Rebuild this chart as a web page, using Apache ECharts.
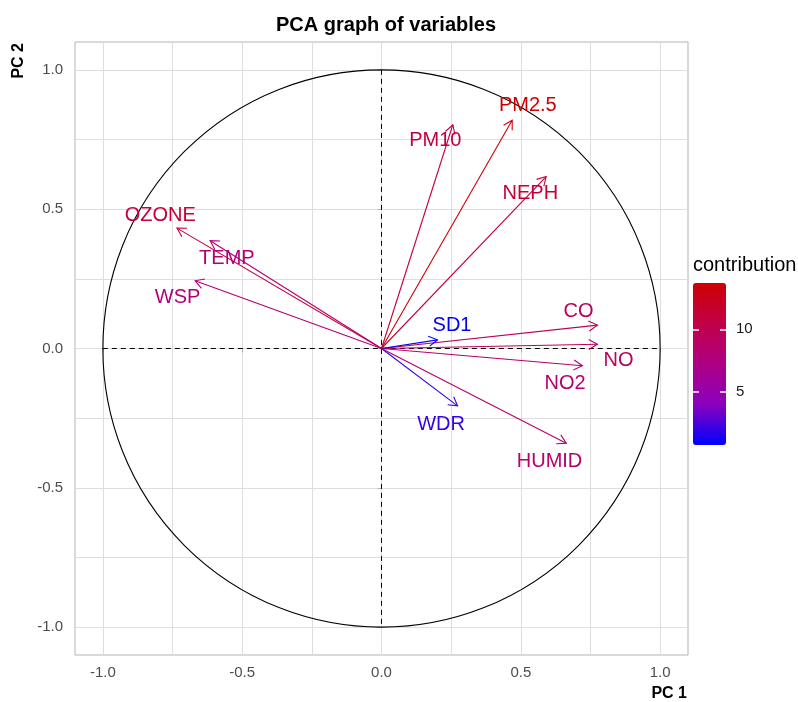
<!DOCTYPE html>
<html>
<head>
<meta charset="utf-8">
<title>PCA graph of variables</title>
<script src="https://cdn.jsdelivr.net/npm/echarts@6/dist/echarts.min.js"></script>
<style>
  html, body { margin: 0; padding: 0; background: #fff; }
  #chart { width: 798px; height: 702px; }
</style>
</head>
<body>
<div id="chart"></div>
<script>
  // variable loadings on PC1 / PC2
  var names = ['PM10', 'PM2.5', 'NEPH', 'OZONE', 'TEMP', 'WSP', 'CO', 'NO', 'NO2', 'SD1', 'WDR', 'HUMID']
  var pc1 = [0.256, 0.469, 0.591, -0.734, -0.615, -0.669, 0.775, 0.775, 0.721, 0.201, 0.273, 0.663]
  var pc2 = [0.803, 0.819, 0.617, 0.432, 0.387, 0.243, 0.084, 0.015, -0.062, 0.031, -0.206, -0.340]
  var contrib = [10.9, 13.7, 11.2, 11.2, 8.1, 7.8, 9.4, 9.3, 8.1, 0.74, 2.0, 8.6]
  // repelled label spots, in data units
  var labelX = [0.193, 0.525, 0.534, -0.794, -0.555, -0.732, 0.707, 0.851, 0.659, 0.253, 0.214, 0.603]
  var labelY = [0.745, 0.871, 0.557, 0.476, 0.324, 0.184, 0.132, -0.044, -0.127, 0.081, -0.272, -0.404]

  var majorTicks = [-1, -0.5, 0, 0.5, 1]
  var gridTicks = [-1, -0.75, -0.5, -0.25, 0, 0.25, 0.5, 0.75, 1]
  var contribTicks = [5, 10]
  var contribMin = 0.74
  var contribMax = 13.7

  var font = '"Liberation Sans", Arial, sans-serif'
  var gradient = ['#0000FF', '#8B00BF', '#AF0083', '#C20049', '#CD0000']

  var arrowData = names.map(function (n, i) {
    return [pc1[i], pc2[i], contrib[i], labelX[i], labelY[i]]
  })

  function renderFrame(params, api) {
    var c = api.coord([0, 0])
    var s = api.size([1, 1])
    var l = api.coord([-1, 0]), r = api.coord([1, 0])
    var t = api.coord([0, 1]), b = api.coord([0, -1])
    var dash = { stroke: '#000', lineWidth: 1, lineDash: [5, 4] }
    return {
      type: 'group',
      children: [
        { type: 'line', shape: { x1: l[0], y1: l[1], x2: r[0], y2: r[1] }, style: dash },
        { type: 'line', shape: { x1: t[0], y1: t[1], x2: b[0], y2: b[1] }, style: dash },
        { type: 'circle', shape: { cx: c[0], cy: c[1], r: s[0] }, style: { stroke: '#000', fill: 'none', lineWidth: 1.1 } }
      ]
    }
  }

  function renderArrow(params, api) {
    var o = api.coord([0, 0])
    var p = api.coord([api.value(0), api.value(1)])
    var t = api.coord([api.value(3), api.value(4)])
    var color = api.visual('color')
    var ang = Math.atan2(p[1] - o[1], p[0] - o[0])
    var len = 10, spread = Math.PI / 6
    var h1 = [p[0] - len * Math.cos(ang - spread), p[1] - len * Math.sin(ang - spread)]
    var h2 = [p[0] - len * Math.cos(ang + spread), p[1] - len * Math.sin(ang + spread)]
    return {
      type: 'group',
      children: [
        { type: 'line', shape: { x1: o[0], y1: o[1], x2: p[0], y2: p[1] }, style: { stroke: color, lineWidth: 1.1 } },
        { type: 'polyline', shape: { points: [h1, p, h2] }, style: { stroke: color, fill: 'none', lineWidth: 1.1 } },
        {
          type: 'text', x: t[0], y: t[1],
          style: {
            text: names[params.dataIndex], fill: color, fontSize: 20, fontFamily: font,
            align: 'center', verticalAlign: 'middle'
          }
        }
      ]
    }
  }

  var option = {
    animation: false,
    backgroundColor: '#fff',
    title: {
      text: 'PCA graph of variables',
      left: 381,
      top: 10,
      textAlign: 'center',
      textStyle: { fontSize: 20, fontWeight: 'bold', color: '#000', fontFamily: font }
    },
    grid: [{
      left: 75, top: 42, width: 613, height: 613,
      show: true, borderColor: '#B3B3B3', borderWidth: 1, backgroundColor: 'transparent'
    }, {
      left: 693, top: 283, width: 33, height: 162
    }],
    xAxis: [{
      gridIndex: 0, type: 'value', min: -1.1, max: 1.1,
      axisLine: { show: false },
      axisTick: { show: false, customValues: gridTicks },
      axisLabel: { show: false },
      splitLine: { show: true, lineStyle: { color: '#DEDEDE', width: 1 } }
    }, {
      gridIndex: 0, type: 'value', min: -1.1, max: 1.1, position: 'bottom',
      axisLine: { show: false },
      axisTick: { show: true, customValues: majorTicks, length: 4, lineStyle: { color: '#B3B3B3' } },
      axisLabel: {
        customValues: majorTicks, color: '#4D4D4D', fontSize: 15, fontFamily: font, margin: 10,
        formatter: function (v) { return v.toFixed(1) }
      },
      splitLine: { show: false }
    }, {
      gridIndex: 1, type: 'value', min: 0, max: 1, show: false
    }],
    yAxis: [{
      gridIndex: 0, type: 'value', min: -1.1, max: 1.1,
      axisLine: { show: false },
      axisTick: { show: false, customValues: gridTicks },
      axisLabel: { show: false },
      splitLine: { show: true, lineStyle: { color: '#DEDEDE', width: 1 } }
    }, {
      gridIndex: 0, type: 'value', min: -1.1, max: 1.1, position: 'left',
      axisLine: { show: false },
      axisTick: { show: true, customValues: majorTicks, length: 4, lineStyle: { color: '#B3B3B3' } },
      axisLabel: {
        customValues: majorTicks, color: '#4D4D4D', fontSize: 15, fontFamily: font, margin: 12,
        formatter: function (v) { return v.toFixed(1) }
      },
      splitLine: { show: false }
    }, {
      gridIndex: 1, type: 'value', min: contribMin, max: contribMax, position: 'left', z: 10,
      axisLine: { show: false },
      axisTick: { show: true, inside: true, customValues: contribTicks, length: 6, lineStyle: { color: '#fff', width: 1.5 } },
      axisLabel: { show: false },
      splitLine: { show: false }
    }, {
      gridIndex: 1, type: 'value', min: contribMin, max: contribMax, position: 'right', z: 10,
      axisLine: { show: false },
      axisTick: { show: true, inside: true, customValues: contribTicks, length: 6, lineStyle: { color: '#fff', width: 1.5 } },
      axisLabel: { customValues: contribTicks, color: '#1A1A1A', fontSize: 15, fontFamily: font, margin: 10 },
      splitLine: { show: false }
    }],
    visualMap: {
      type: 'continuous',
      seriesIndex: 1,
      dimension: 2,
      min: contribMin,
      max: contribMax,
      calculable: false,
      hoverLink: false,
      left: 693,
      top: 283,
      padding: 0,
      itemWidth: 33,
      itemHeight: 162,
      inRange: { color: gradient }
    },
    graphic: [{
      type: 'text', x: 687, y: 694,
      style: { text: 'PC 1', fontSize: 16, fontWeight: 'bold', fontFamily: font, fill: '#000', align: 'right', verticalAlign: 'middle' }
    }, {
      type: 'text', x: 18.5, y: 43, rotation: Math.PI / 2,
      style: { text: 'PC 2', fontSize: 16, fontWeight: 'bold', fontFamily: font, fill: '#000', align: 'right', verticalAlign: 'middle' }
    }, {
      type: 'text', x: 693, y: 265,
      style: { text: 'contribution', fontSize: 20, fontFamily: font, fill: '#000', align: 'left', verticalAlign: 'middle' }
    }],
    series: [{
      type: 'custom',
      xAxisIndex: 0, yAxisIndex: 0,
      renderItem: renderFrame,
      data: [[0, 0]],
      silent: true,
      z: 2
    }, {
      type: 'custom',
      xAxisIndex: 0, yAxisIndex: 0,
      renderItem: renderArrow,
      encode: { x: 0, y: 1 },
      data: arrowData,
      z: 3
    }]
  }

  var chart = echarts.init(document.getElementById('chart'))
  chart.setOption(option, true)
</script>
</body>
</html>
